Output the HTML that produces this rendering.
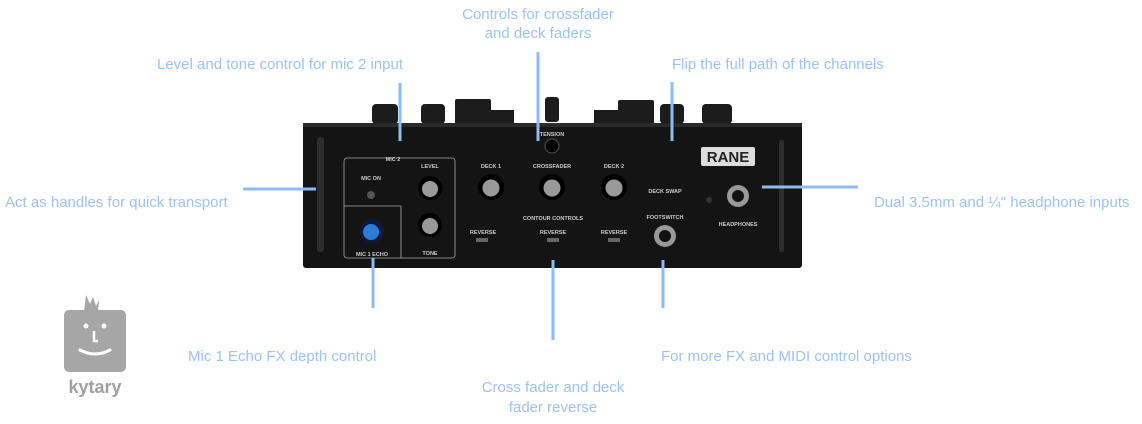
<!DOCTYPE html>
<html><head><meta charset="utf-8"><style>
html,body{margin:0;padding:0;background:#fff;width:1142px;height:424px;overflow:hidden}
svg{display:block}
.t{font-family:"Liberation Sans",sans-serif;font-size:15px;fill:#9cc3f3}
.s{font-family:"Liberation Sans",sans-serif;font-size:5.5px;fill:#ccc;font-weight:bold}
.l{stroke:#8dbcf5;stroke-width:3}
</style></head><body>
<svg width="1142" height="424" viewBox="0 0 1142 424">
<g fill="#1c1c1c">
<rect x="372" y="104" width="26" height="20" rx="4"/>
<rect x="421" y="104" width="24" height="20" rx="4"/>
<rect x="455" y="99" width="36" height="25" rx="2"/>
<rect x="489" y="110" width="25" height="14"/>
<rect x="545" y="97" width="14" height="25" rx="3"/>
<rect x="594" y="110" width="26" height="14"/>
<rect x="618" y="100" width="36" height="24" rx="2"/>
<rect x="660" y="104" width="24" height="20" rx="4"/>
<rect x="702" y="104" width="30" height="20" rx="4"/>
</g>
<rect x="303" y="123" width="499" height="145" rx="3" fill="#141414"/>
<rect x="303" y="123" width="499" height="4" fill="#2a2a2a"/>
<rect x="317" y="137" width="7" height="115" rx="3" fill="#2d2d2d"/>
<rect x="779" y="140" width="5" height="112" rx="2" fill="#2d2d2d"/>
<rect x="344" y="158" width="111" height="100" rx="3" fill="none" stroke="#aaa" stroke-width="0.8"/>
<line x1="344" y1="206" x2="401" y2="206" stroke="#aaa" stroke-width="0.8"/>
<line x1="401" y1="206" x2="401" y2="258" stroke="#aaa" stroke-width="0.8"/>
<text class="s" x="393" y="161" text-anchor="middle">MIC 2</text>
<text class="s" x="371" y="180" text-anchor="middle">MIC ON</text>
<circle cx="371" cy="195" r="4" fill="#555"/>
<text class="s" x="430" y="168" text-anchor="middle">LEVEL</text>
<circle cx="430" cy="188" r="12" fill="#000"/><circle cx="430" cy="189" r="8" fill="#999"/>
<circle cx="430" cy="225" r="12" fill="#000"/><circle cx="430" cy="226" r="8" fill="#999"/>
<text class="s" x="430" y="255" text-anchor="middle">TONE</text>
<circle cx="372" cy="231" r="12" fill="#0a1a3a"/><circle cx="371" cy="232" r="8" fill="#2e7bd8"/>
<text class="s" x="372" y="256" text-anchor="middle">MIC 1 ECHO</text>
<text class="s" x="552" y="136" text-anchor="middle">TENSION</text>
<circle cx="552" cy="146" r="7" fill="#000" stroke="#555"/>
<g>
<text class="s" x="491" y="168" text-anchor="middle">DECK 1</text>
<circle cx="491" cy="187" r="13" fill="#000"/><circle cx="491" cy="188" r="8.5" fill="#999"/>
<text class="s" x="552" y="168" text-anchor="middle">CROSSFADER</text>
<circle cx="552" cy="187" r="13" fill="#000"/><circle cx="552" cy="188" r="8.5" fill="#999"/>
<text class="s" x="614" y="168" text-anchor="middle">DECK 2</text>
<circle cx="614" cy="187" r="13" fill="#000"/><circle cx="614" cy="188" r="8.5" fill="#999"/>
<text class="s" x="553" y="220" text-anchor="middle">CONTOUR CONTROLS</text>
<text class="s" x="483" y="234" text-anchor="middle">REVERSE</text>
<text class="s" x="553" y="234" text-anchor="middle">REVERSE</text>
<text class="s" x="614" y="234" text-anchor="middle">REVERSE</text>
<rect x="476" y="238" width="12" height="4" fill="#666"/>
<rect x="547" y="238" width="12" height="4" fill="#666"/>
<rect x="608" y="238" width="12" height="4" fill="#666"/>
</g>
<text class="s" x="665" y="193" text-anchor="middle">DECK SWAP</text>
<text class="s" x="665" y="219" text-anchor="middle">FOOTSWITCH</text>
<circle cx="665" cy="236" r="11" fill="#999"/><circle cx="665" cy="236" r="6" fill="#111"/>
<circle cx="738" cy="196" r="11" fill="#999"/><circle cx="738" cy="196" r="6" fill="#111"/>
<text class="s" x="738" y="226" text-anchor="middle">HEADPHONES</text>
<circle cx="709" cy="200" r="3" fill="#333"/>
<rect x="701" y="147" width="54" height="19" rx="2" fill="#ddd"/>
<text x="728" y="162" text-anchor="middle" font-family="Liberation Sans,sans-serif" font-weight="bold" font-size="15" fill="#222">RANE</text>
<line class="l" x1="400" y1="83" x2="400" y2="141"/>
<line class="l" x1="538" y1="52" x2="538" y2="141"/>
<line class="l" x1="672" y1="82" x2="672" y2="141"/>
<line class="l" x1="243" y1="189" x2="316" y2="189"/>
<line class="l" x1="762" y1="187" x2="858" y2="187"/>
<line class="l" x1="373" y1="258" x2="373" y2="308"/>
<line class="l" x1="553" y1="260" x2="553" y2="340"/>
<line class="l" x1="663" y1="260" x2="663" y2="308"/>
<text class="t" x="538" y="19" text-anchor="middle">Controls for crossfader</text>
<text class="t" x="538" y="38" text-anchor="middle">and deck faders</text>
<text class="t" x="280" y="69" text-anchor="middle">Level and tone control for mic 2 input</text>
<text class="t" x="672" y="69">Flip the full path of the channels</text>
<text class="t" x="5" y="207">Act as handles for quick transport</text>
<text class="t" x="874" y="207">Dual 3.5mm and ¼" headphone inputs</text>
<text class="t" x="188" y="361">Mic 1 Echo FX depth control</text>
<text class="t" x="661" y="361">For more FX and MIDI control options</text>
<text class="t" x="553" y="392" text-anchor="middle">Cross fader and deck</text>
<text class="t" x="553" y="412" text-anchor="middle">fader reverse</text>
<path d="M84 312 L86 295 L90 304 L93 297 L96 306 L99 300 L98 312 Z" fill="#a6a6a6"/>
<rect x="64" y="310" width="62" height="62" rx="5" fill="#a6a6a6"/>
<circle cx="86" cy="326" r="2.5" fill="#fff"/><circle cx="104" cy="326" r="2.5" fill="#fff"/>
<path d="M94 331 V341 H98" stroke="#fff" stroke-width="2.5" fill="none"/>
<path d="M80 350 Q95 358 110 350" stroke="#fff" stroke-width="3" fill="none" stroke-linecap="round"/>
<text x="95" y="393" text-anchor="middle" font-family="Liberation Sans,sans-serif" font-weight="bold" font-size="18" fill="#a0a0a0">kytary</text>
</svg>
</body></html>
